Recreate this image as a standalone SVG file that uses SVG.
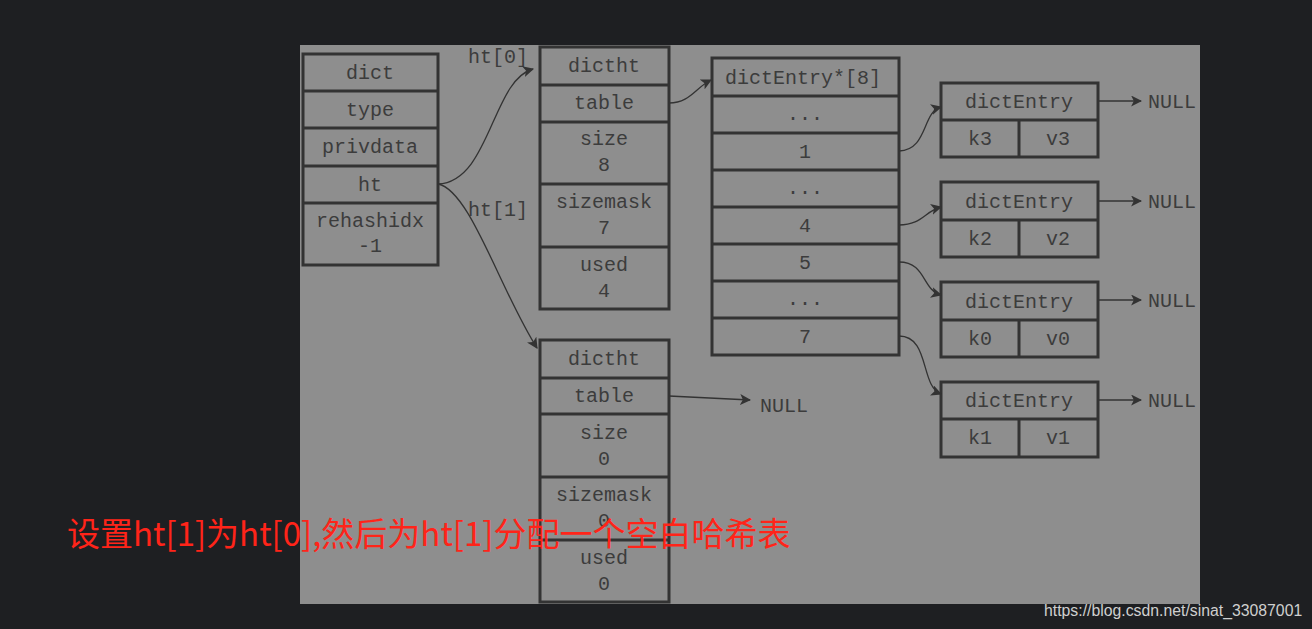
<svg xmlns="http://www.w3.org/2000/svg" width="1312" height="629" viewBox="0 0 1312 629">
<style>
.box{fill:none;stroke:#333;stroke-width:3}
.t{font-family:"Liberation Mono","DejaVu Sans Mono",monospace;font-size:20px;fill:#3c3c3c;text-anchor:middle}
.tl{font-family:"Liberation Mono","DejaVu Sans Mono",monospace;font-size:20px;fill:#3c3c3c}
.c{fill:none;stroke:#333;stroke-width:1.3}
</style>
<defs>
<marker id="ah" viewBox="0 0 10 10" refX="9" refY="5" markerWidth="11" markerHeight="11" markerUnits="userSpaceOnUse" orient="auto">
<path d="M0,0 L10,5 L0,10 L2.5,5 Z" fill="#333"/>
</marker>
<clipPath id="panel"><rect x="300" y="45" width="900" height="559"/></clipPath>
</defs>
<rect x="0" y="0" width="1312" height="629" fill="#1e1f22"/>
<rect x="300" y="45" width="900" height="559" fill="#8e8e8e"/>
<g clip-path="url(#panel)">
<g id="dict">
<rect class="box" x="303" y="54" width="135" height="211"/>
<path class="box" d="M303,91H438M303,128H438M303,166H438M303,203H438"/>
<text class="t" x="370" y="79">dict</text>
<text class="t" x="370" y="116">type</text>
<text class="t" x="370" y="153">privdata</text>
<text class="t" x="370" y="191">ht</text>
<text class="t" x="370" y="227">rehashidx</text>
<text class="t" x="370" y="252">-1</text>
</g>
<g id="ht-labels">
<text class="tl" x="468" y="63">ht[0]</text>
<text class="tl" x="468" y="216">ht[1]</text>
</g>
<g id="dictht0">
<rect class="box" x="540" y="47" width="129" height="262"/>
<path class="box" d="M540,85H669M540,122H669M540,184H669M540,247H669"/>
<text class="t" x="604" y="72">dictht</text>
<text class="t" x="604" y="109">table</text>
<text class="t" x="604" y="145">size</text>
<text class="t" x="604" y="171">8</text>
<text class="t" x="604" y="208">sizemask</text>
<text class="t" x="604" y="234">7</text>
<text class="t" x="604" y="271">used</text>
<text class="t" x="604" y="297">4</text>
</g>
<g id="dictht1">
<rect class="box" x="540" y="340" width="129" height="262"/>
<path class="box" d="M540,378H669M540,414H669M540,477H669M540,540H669"/>
<text class="t" x="604" y="365">dictht</text>
<text class="t" x="604" y="402">table</text>
<text class="t" x="604" y="439">size</text>
<text class="t" x="604" y="465">0</text>
<text class="t" x="604" y="501">sizemask</text>
<text class="t" x="604" y="527">0</text>
<text class="t" x="604" y="564">used</text>
<text class="t" x="604" y="590">0</text>
</g>
<g id="table-array">
<rect class="box" x="712" y="58" width="187" height="297"/>
<path class="box" d="M712,96H899M712,133H899M712,170H899M712,207H899M712,244H899M712,281H899M712,318H899"/>
<text class="t" x="803" y="84">dictEntry*[8]</text>
<text class="t" x="805" y="120">...</text>
<text class="t" x="805" y="158">1</text>
<text class="t" x="805" y="194">...</text>
<text class="t" x="805" y="232">4</text>
<text class="t" x="805" y="269">5</text>
<text class="t" x="805" y="305">...</text>
<text class="t" x="805" y="343">7</text>
</g>
<g id="entry-k3">
<rect class="box" x="941" y="83" width="157" height="74"/>
<path class="box" d="M941,120H1098M1019,120V157"/>
<text class="t" x="1019" y="108">dictEntry</text>
<text class="t" x="980" y="145">k3</text>
<text class="t" x="1058" y="145">v3</text>
</g>
<g id="entry-k2">
<rect class="box" x="941" y="182" width="157" height="75"/>
<path class="box" d="M941,220H1098M1019,220V257"/>
<text class="t" x="1019" y="208">dictEntry</text>
<text class="t" x="980" y="245">k2</text>
<text class="t" x="1058" y="245">v2</text>
</g>
<g id="entry-k0">
<rect class="box" x="941" y="282" width="157" height="75"/>
<path class="box" d="M941,320H1098M1019,320V357"/>
<text class="t" x="1019" y="308">dictEntry</text>
<text class="t" x="980" y="345">k0</text>
<text class="t" x="1058" y="345">v0</text>
</g>
<g id="entry-k1">
<rect class="box" x="941" y="382" width="157" height="75"/>
<path class="box" d="M941,419H1098M1019,419V457"/>
<text class="t" x="1019" y="407">dictEntry</text>
<text class="t" x="980" y="444">k1</text>
<text class="t" x="1058" y="444">v1</text>
</g>
<g id="nulls">
<text class="tl" x="1148" y="108">NULL</text>
<text class="tl" x="1148" y="208">NULL</text>
<text class="tl" x="1148" y="307">NULL</text>
<text class="tl" x="1148" y="407">NULL</text>
<text class="tl" x="760" y="412">NULL</text>
</g>
<g id="connectors">
<path class="c" marker-end="url(#ah)" d="M438,184 C490,182 492,80 533,69"/>
<path class="c" marker-end="url(#ah)" d="M438,184 C470,190 500,290 537,348"/>
<path class="c" marker-end="url(#ah)" d="M669,103 C690,103 695,88 711,80"/>
<path class="c" marker-end="url(#ah)" d="M899,151 C928,150 922,112 941,107"/>
<path class="c" marker-end="url(#ah)" d="M899,225 C922,225 925,211 941,207"/>
<path class="c" marker-end="url(#ah)" d="M899,262 C926,262 922,290 941,295"/>
<path class="c" marker-end="url(#ah)" d="M899,336 C930,336 920,386 941,394"/>
<path class="c" marker-end="url(#ah)" d="M669,396 L750,400"/>
<path class="c" marker-end="url(#ah)" d="M1098,101 H1141"/>
<path class="c" marker-end="url(#ah)" d="M1098,201 H1141"/>
<path class="c" marker-end="url(#ah)" d="M1098,300 H1141"/>
<path class="c" marker-end="url(#ah)" d="M1098,400 H1141"/>
</g>
</g>
<text x="67" y="546" font-family="'Noto Sans CJK SC','Microsoft YaHei',sans-serif" font-size="33" fill="#ff2419">设置ht[1]为ht[0],然后为ht[1]分配一个空白哈希表</text>
<text x="1044" y="616" font-family="'Liberation Sans',Arial,sans-serif" font-size="15.8" fill="#cfcfcf">https://blog.csdn.net/sinat_33087001</text>
</svg>
